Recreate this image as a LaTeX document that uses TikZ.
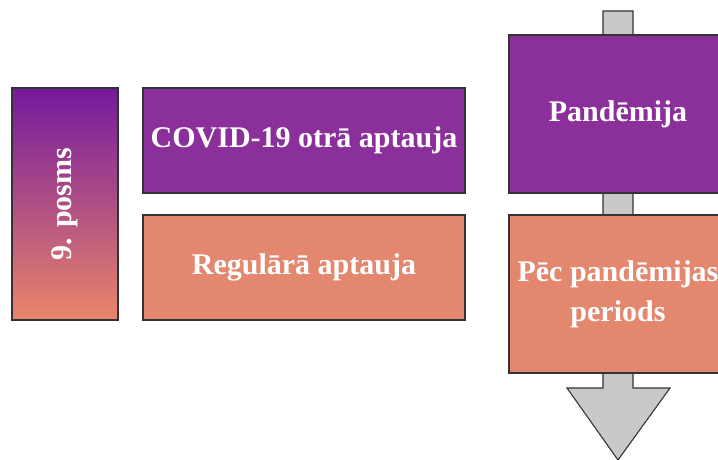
\documentclass[tikz,border=0pt]{standalone}
\usepackage{fontspec}
\setmainfont{Liberation Serif}
\usepackage{graphicx}
\definecolor{phasepurple}{HTML}{8B2F9A}
\definecolor{phasesalmon}{HTML}{E3876F}
\definecolor{gradtop}{HTML}{74199E}
\definecolor{gradbottom}{HTML}{EA866A}
\colorlet{arrowgray}{black!21}
\usetikzlibrary{positioning}
\tikzstyle{box}=[draw=black!80,line width=1.1pt,rectangle,text=white,
  font=\bfseries\fontsize{30}{40}\selectfont,align=center,inner sep=0pt]
\tikzstyle{purplebox}=[box,fill=phasepurple]
\tikzstyle{salmonbox}=[box,fill=phasesalmon]

\begin{document}
\begin{tikzpicture}[x=1pt, y=-1pt, on grid]
  \useasboundingbox (0,0) rectangle (718,459);
  \tikzstyle{survey}=[minimum width=322pt, minimum height=105pt]
  \tikzstyle{period}=[minimum width=218pt, minimum height=158pt]

  % time arrow behind the periods
  \draw[fill=arrowgray,draw=black!80,line width=1.1pt]
    (603,11) -- (633,11) -- (633,388) -- (670,388) -- (618,460)
    -- (567,388) -- (603,388) -- cycle;

  \node[box,minimum width=106pt,minimum height=232pt,
    top color=gradtop,bottom color=gradbottom] (posms) at (65,204)
    {\rotatebox{90}{9. posms}};

  \node[purplebox,survey] (covid) at (304,140.5) {COVID-19 otrā aptauja};
  \node[salmonbox,survey,below=127pt of covid] (regular) {Regulārā aptauja};

  \node[purplebox,period] (pandemic) at (618,114) {Pandēmija};
  \node[salmonbox,period,below=180pt of pandemic] (post)
    {Pēc pandēmijas\\periods};
\end{tikzpicture}
\end{document}
